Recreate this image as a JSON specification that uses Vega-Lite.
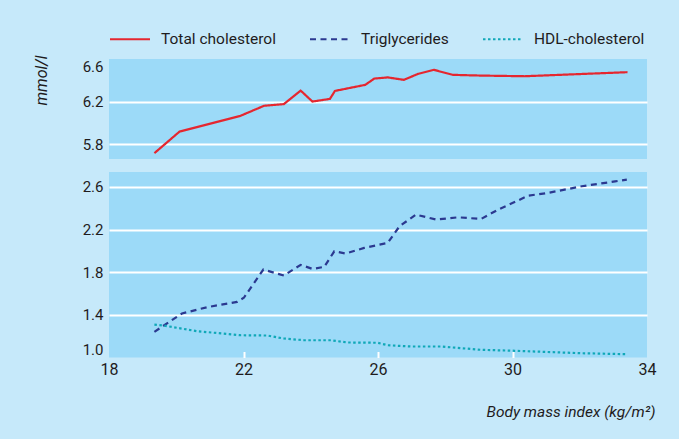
{
  "$schema": "https://vega.github.io/schema/vega-lite/v6.json",
  "background": "#c6e9fa",
  "padding": {"left": 33, "top": 18, "right": 24, "bottom": 20},
  "config": {
    "font": "Roboto",
    "view": {"fill": "#9cdaf8", "stroke": null},
    "axis": {"labelFont": "Roboto", "labelFontSize": 15, "labelColor": "#1f1c1d", "titleFont": "Roboto", "titleColor": "#1f1c1d", "titleFontWeight": "normal", "domain": false},
    "concat": {"spacing": 13}
  },
  "data": {"values": [
    {"bmi": 19.35, "value": 5.715, "series": "Total cholesterol"},
    {"bmi": 20.10, "value": 5.918, "series": "Total cholesterol"},
    {"bmi": 21.91, "value": 6.066, "series": "Total cholesterol"},
    {"bmi": 22.61, "value": 6.160, "series": "Total cholesterol"},
    {"bmi": 23.20, "value": 6.176, "series": "Total cholesterol"},
    {"bmi": 23.70, "value": 6.303, "series": "Total cholesterol"},
    {"bmi": 24.05, "value": 6.200, "series": "Total cholesterol"},
    {"bmi": 24.57, "value": 6.225, "series": "Total cholesterol"},
    {"bmi": 24.72, "value": 6.300, "series": "Total cholesterol"},
    {"bmi": 25.62, "value": 6.357, "series": "Total cholesterol"},
    {"bmi": 25.89, "value": 6.416, "series": "Total cholesterol"},
    {"bmi": 26.29, "value": 6.427, "series": "Total cholesterol"},
    {"bmi": 26.77, "value": 6.404, "series": "Total cholesterol"},
    {"bmi": 27.19, "value": 6.460, "series": "Total cholesterol"},
    {"bmi": 27.66, "value": 6.498, "series": "Total cholesterol"},
    {"bmi": 28.23, "value": 6.451, "series": "Total cholesterol"},
    {"bmi": 29.07, "value": 6.444, "series": "Total cholesterol"},
    {"bmi": 30.37, "value": 6.438, "series": "Total cholesterol"},
    {"bmi": 31.56, "value": 6.453, "series": "Total cholesterol"},
    {"bmi": 33.42, "value": 6.476, "series": "Total cholesterol"},
    {"bmi": 19.35, "value": 1.241, "series": "Triglycerides"},
    {"bmi": 20.17, "value": 1.413, "series": "Triglycerides"},
    {"bmi": 20.92, "value": 1.472, "series": "Triglycerides"},
    {"bmi": 21.81, "value": 1.522, "series": "Triglycerides"},
    {"bmi": 22.01, "value": 1.560, "series": "Triglycerides"},
    {"bmi": 22.59, "value": 1.825, "series": "Triglycerides"},
    {"bmi": 23.20, "value": 1.769, "series": "Triglycerides"},
    {"bmi": 23.70, "value": 1.869, "series": "Triglycerides"},
    {"bmi": 24.05, "value": 1.831, "series": "Triglycerides"},
    {"bmi": 24.40, "value": 1.850, "series": "Triglycerides"},
    {"bmi": 24.70, "value": 1.996, "series": "Triglycerides"},
    {"bmi": 25.04, "value": 1.975, "series": "Triglycerides"},
    {"bmi": 25.59, "value": 2.028, "series": "Triglycerides"},
    {"bmi": 26.29, "value": 2.075, "series": "Triglycerides"},
    {"bmi": 26.64, "value": 2.231, "series": "Triglycerides"},
    {"bmi": 27.13, "value": 2.340, "series": "Triglycerides"},
    {"bmi": 27.73, "value": 2.294, "series": "Triglycerides"},
    {"bmi": 28.38, "value": 2.315, "series": "Triglycerides"},
    {"bmi": 29.07, "value": 2.300, "series": "Triglycerides"},
    {"bmi": 29.57, "value": 2.387, "series": "Triglycerides"},
    {"bmi": 30.17, "value": 2.474, "series": "Triglycerides"},
    {"bmi": 30.47, "value": 2.518, "series": "Triglycerides"},
    {"bmi": 31.06, "value": 2.544, "series": "Triglycerides"},
    {"bmi": 32.06, "value": 2.606, "series": "Triglycerides"},
    {"bmi": 33.05, "value": 2.652, "series": "Triglycerides"},
    {"bmi": 33.40, "value": 2.668, "series": "Triglycerides"},
    {"bmi": 19.35, "value": 1.309, "series": "HDL-cholesterol"},
    {"bmi": 19.62, "value": 1.300, "series": "HDL-cholesterol"},
    {"bmi": 20.62, "value": 1.247, "series": "HDL-cholesterol"},
    {"bmi": 21.91, "value": 1.209, "series": "HDL-cholesterol"},
    {"bmi": 22.71, "value": 1.206, "series": "HDL-cholesterol"},
    {"bmi": 23.20, "value": 1.178, "series": "HDL-cholesterol"},
    {"bmi": 23.80, "value": 1.162, "series": "HDL-cholesterol"},
    {"bmi": 24.60, "value": 1.162, "series": "HDL-cholesterol"},
    {"bmi": 25.09, "value": 1.141, "series": "HDL-cholesterol"},
    {"bmi": 25.99, "value": 1.138, "series": "HDL-cholesterol"},
    {"bmi": 26.29, "value": 1.115, "series": "HDL-cholesterol"},
    {"bmi": 26.99, "value": 1.103, "series": "HDL-cholesterol"},
    {"bmi": 27.88, "value": 1.103, "series": "HDL-cholesterol"},
    {"bmi": 29.07, "value": 1.072, "series": "HDL-cholesterol"},
    {"bmi": 30.07, "value": 1.063, "series": "HDL-cholesterol"},
    {"bmi": 32.06, "value": 1.040, "series": "HDL-cholesterol"},
    {"bmi": 33.40, "value": 1.031, "series": "HDL-cholesterol"}
  ]},
  "vconcat": [
    {
      "width": 538,
      "height": 100,
      "transform": [{"filter": "datum.series === 'Total cholesterol'"}],
      "mark": {"type": "line", "strokeWidth": 2.2},
      "encoding": {
        "x": {"field": "bmi", "type": "quantitative", "scale": {"domain": [18, 34], "nice": false}, "axis": null},
        "y": {"field": "value", "type": "quantitative", "scale": {"domain": [5.66, 6.6], "nice": false, "zero": false},
          "axis": {"values": [5.8, 6.2, 6.6], "format": ".1f", "ticks": false, "labelPadding": 6, "labelFlush": true,
            "grid": true, "gridColor": "white", "gridWidth": 2,
            "gridOpacity": {"condition": {"test": "datum.value > 6.5", "value": 0}, "value": 1},
            "title": "mmol/l", "titleFontStyle": "italic", "titleFontSize": 16, "titleX": -68, "titleY": 21, "titleAngle": -90, "titleAlign": "center", "titleBaseline": "middle"}},
        "color": {"field": "series", "type": "nominal",
          "scale": {"domain": ["Total cholesterol", "Triglycerides", "HDL-cholesterol"], "range": ["#e5262f", "#2b3990", "#10a8b8"]},
          "legend": {"orient": "none", "legendX": 0, "legendY": -41, "direction": "horizontal", "title": null,
            "symbolType": "stroke", "symbolSize": 1600, "symbolStrokeWidth": 2, "labelFont": "Roboto", "labelFontSize": 15.5, "labelOffset": 10, "columnPadding": 30, "labelColor": "#1f1c1d"}},
        "strokeDash": {"field": "series", "type": "nominal",
          "scale": {"domain": ["Total cholesterol", "Triglycerides", "HDL-cholesterol"], "range": [[1, 0], [6, 4.5], [2.5, 2.5]]},
          "legend": {"orient": "none", "legendX": 0, "legendY": -41, "direction": "horizontal", "title": null,
            "symbolType": "stroke", "symbolSize": 1600, "symbolStrokeWidth": 2, "labelFont": "Roboto", "labelFontSize": 15.5, "labelOffset": 10, "columnPadding": 30, "labelColor": "#1f1c1d"}}
      }
    },
    {
      "width": 538,
      "height": 185.5,
      "transform": [{"filter": "datum.series !== 'Total cholesterol'"}],
      "mark": {"type": "line", "strokeWidth": 2.2},
      "encoding": {
        "x": {"field": "bmi", "type": "quantitative", "scale": {"domain": [18, 34], "nice": false},
          "axis": {"values": [18, 22, 26, 30, 34], "format": "d", "labelFlush": false, "grid": false,
            "ticks": true, "tickColor": "white", "tickWidth": 2, "tickSize": -6,
            "tickOpacity": {"condition": {"test": "datum.value <= 18 || datum.value >= 34", "value": 0}, "value": 1},
            "labelPadding": 10, "labelFontSize": 16,
            "title": "Body mass index (kg/m²)", "titleFontStyle": "italic", "titleFontSize": 15.5, "titleX": 546, "titleY": 54, "titleAlign": "right", "titleBaseline": "middle", "titleAnchor": null}},
        "y": {"field": "value", "type": "quantitative", "scale": {"domain": [1.0, 2.74], "nice": false, "zero": false},
          "axis": {"values": [1.0, 1.4, 1.8, 2.2, 2.6], "format": ".1f", "ticks": false, "labelPadding": 6, "labelFlush": true,
            "grid": true, "gridColor": "white", "gridWidth": 2,
            "gridOpacity": {"condition": {"test": "datum.value < 1.1", "value": 0}, "value": 1},
            "title": null}},
        "color": {"field": "series", "type": "nominal",
          "scale": {"domain": ["Total cholesterol", "Triglycerides", "HDL-cholesterol"], "range": ["#e5262f", "#2b3990", "#10a8b8"]}},
        "strokeDash": {"field": "series", "type": "nominal",
          "scale": {"domain": ["Total cholesterol", "Triglycerides", "HDL-cholesterol"], "range": [[1, 0], [6, 4.5], [2.5, 2.5]]}}
      }
    }
  ]
}
